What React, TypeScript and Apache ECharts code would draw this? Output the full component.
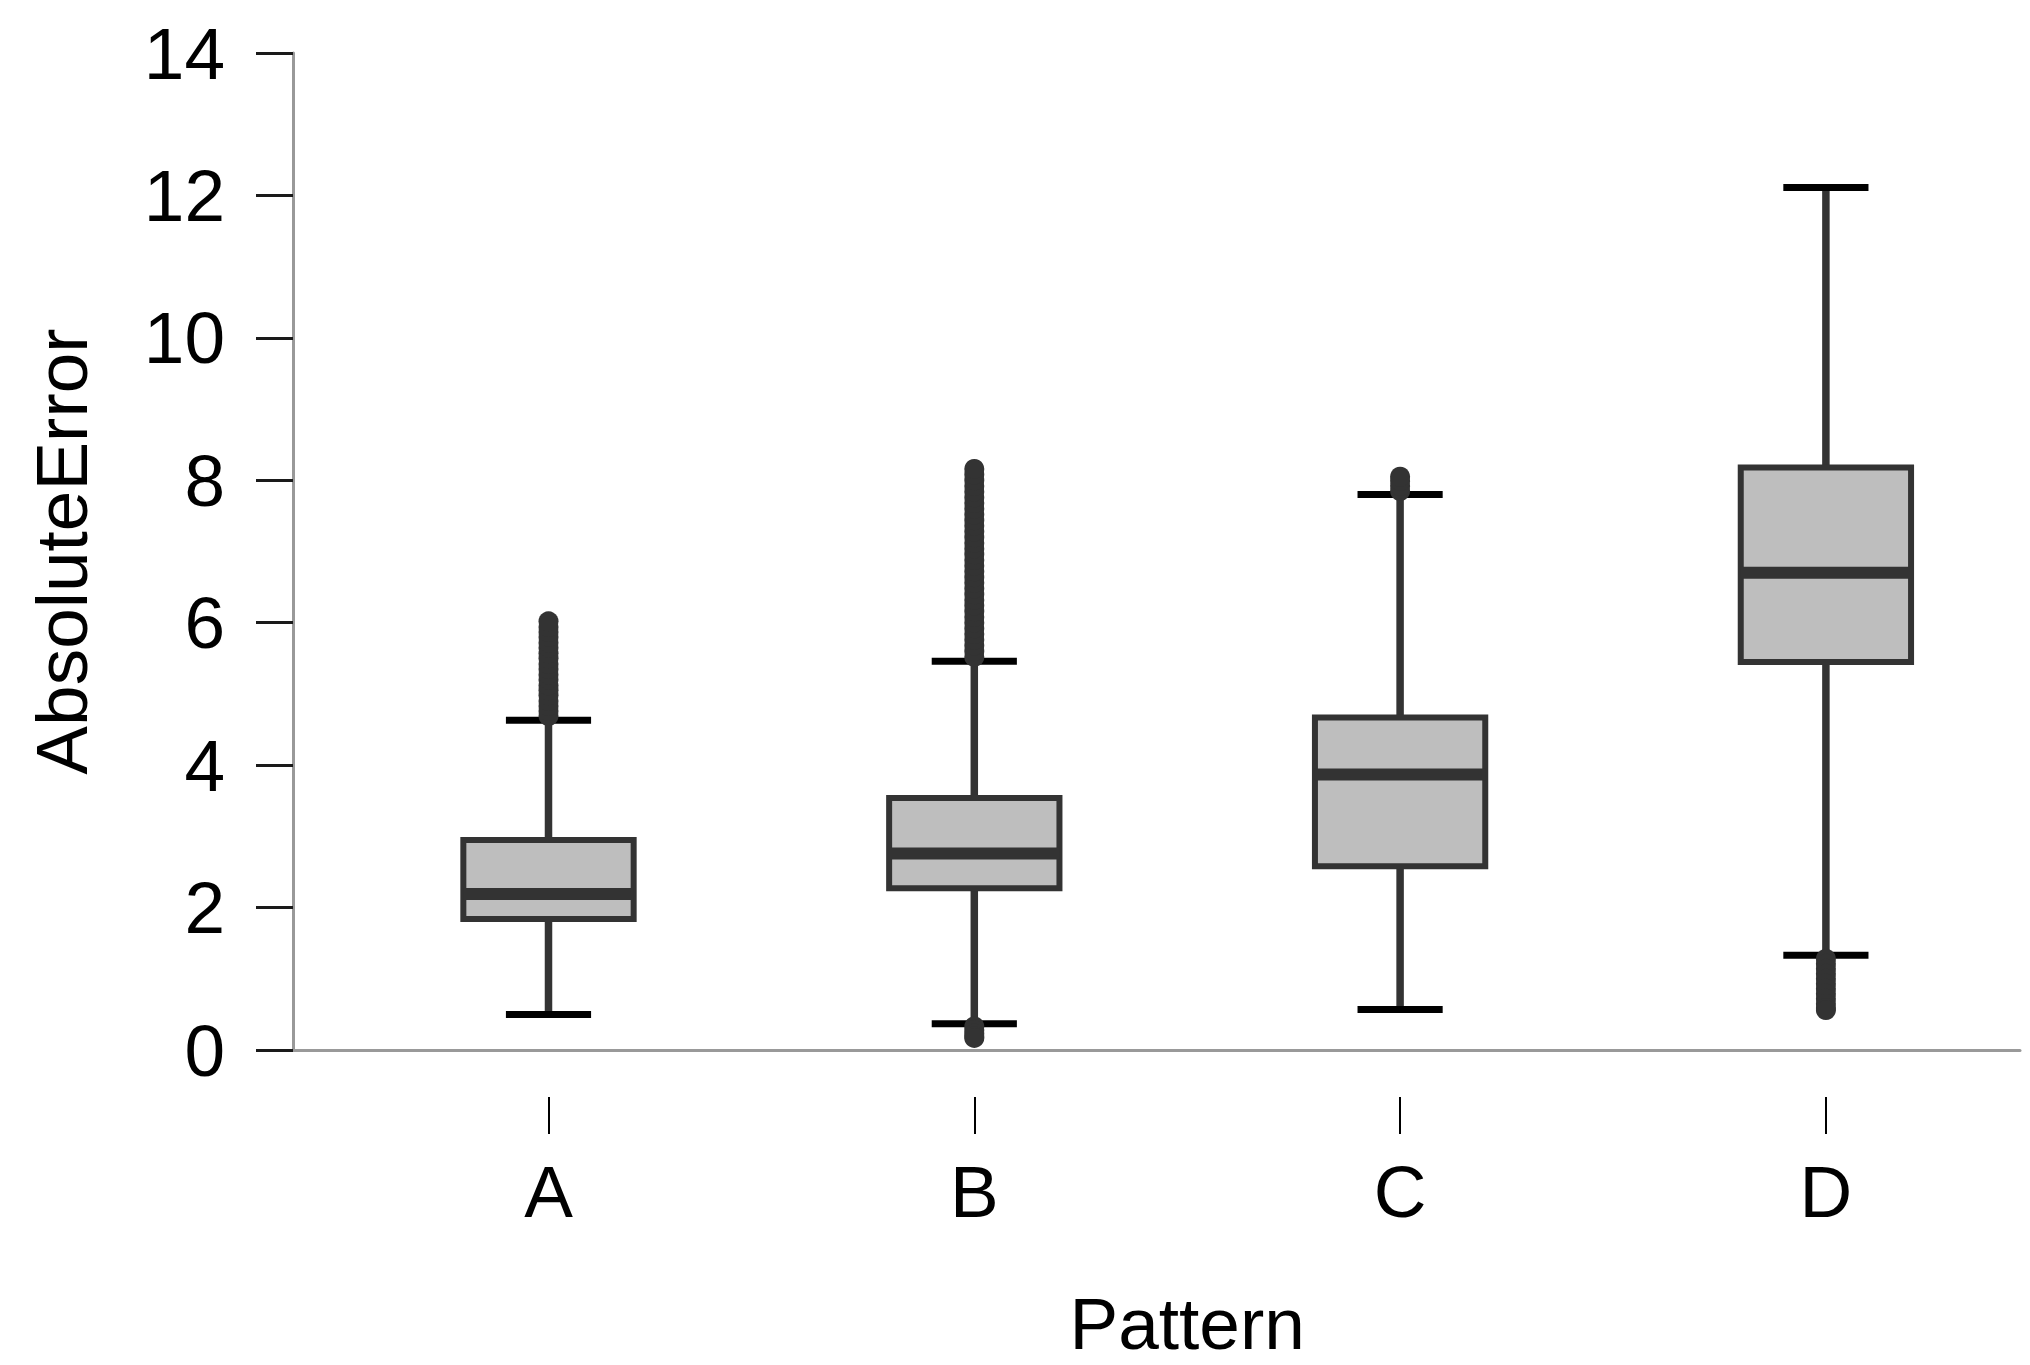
import React, { useEffect, useRef } from "react";
import * as echarts from "echarts";

// ---- Data ----
const categories = ["A", "B", "C", "D"];
const whiskerLow = [0.5, 0.37, 0.57, 1.33];
const q1 = [1.84, 2.27, 2.58, 5.45];
const medians = [2.19, 2.76, 3.87, 6.7];
const q3 = [2.95, 3.54, 4.67, 8.18];
const whiskerHigh = [4.63, 5.46, 7.8, 12.11];

const outliersA = [4.69, 4.76, 4.83, 4.9, 4.98, 5.05, 5.12, 5.2, 5.27, 5.35, 5.42, 5.5, 5.57, 5.65, 5.72, 5.8, 5.87, 5.94, 6.02];
const outliersB = [
  5.52, 5.6, 5.68, 5.76, 5.84, 5.92, 6.0, 6.08, 6.16, 6.24, 6.32, 6.4, 6.48, 6.56, 6.64, 6.72, 6.8, 6.88, 6.96, 7.04,
  7.12, 7.2, 7.28, 7.36, 7.44, 7.52, 7.6, 7.68, 7.76, 7.84, 7.92, 8.0, 8.08, 8.16,
  0.33, 0.28, 0.23, 0.19, 0.17,
];
const outliersC = [7.85, 7.92, 7.99, 8.05];
const outliersD = [1.28, 1.21, 1.14, 1.07, 1.0, 0.93, 0.86, 0.79, 0.72, 0.65, 0.59, 0.56];
const outlierLists = [outliersA, outliersB, outliersC, outliersD];

const yMin = 0;
const yMax = 14;
const yInterval = 2;

const xName = "Pattern";
const yName = "AbsoluteError";

const FONT = "'Liberation Sans', Arial, Helvetica, sans-serif";

export default function App() {
  const ref = useRef<HTMLDivElement>(null);

  useEffect(() => {
    if (!ref.current) return;
    const chart = echarts.init(ref.current, undefined, { renderer: "svg" });

    const boxData = categories.map((_, i) => [i, whiskerLow[i], q1[i], medians[i], q3[i], whiskerHigh[i]]);
    const outlierData: number[][] = [];
    outlierLists.forEach((list, i) => list.forEach((v) => outlierData.push([i, v])));

    const option: any = {
      animation: false,
      backgroundColor: "#ffffff",
      textStyle: { fontFamily: FONT },
      grid: [
        // grid 0: y axis and the grey baseline
        { left: 293, right: 10, top: 53, bottom: 315 },
        // grid 1: the boxes (categories placed on grid edges)
        { left: 548.5, right: 204.1, top: 53, bottom: 315 },
        // grid 2: detached category ticks, labels and axis name
        { left: 548.5, right: 204.1, top: 53, bottom: 265 },
      ],
      xAxis: [
        {
          type: "value",
          gridIndex: 0,
          min: 0,
          max: 1,
          axisLine: { show: true, lineStyle: { color: "#999999", width: 3 } },
          axisTick: { show: false },
          axisLabel: { show: false },
          splitLine: { show: false },
        },
        {
          type: "category",
          gridIndex: 1,
          data: categories,
          boundaryGap: false,
          show: false,
        },
        {
          type: "category",
          gridIndex: 2,
          data: categories,
          boundaryGap: false,
          axisLine: { show: false },
          axisTick: { show: true, length: 37, lineStyle: { color: "#000", width: 2 } },
          axisLabel: { fontSize: 73, color: "#000", margin: 58, fontFamily: FONT },
          splitLine: { show: false },
          name: xName,
          nameLocation: "middle",
          nameGap: 190,
          nameTextStyle: { fontSize: 73, color: "#000", fontFamily: FONT },
        },
      ],
      yAxis: [
        {
          type: "value",
          gridIndex: 0,
          min: yMin,
          max: yMax,
          interval: yInterval,
          axisLine: { show: true, lineStyle: { color: "#999999", width: 3 } },
          axisTick: { show: true, length: 37, lineStyle: { color: "#1a1a1a", width: 3 } },
          axisLabel: { fontSize: 73, color: "#000", margin: 68, fontFamily: FONT },
          splitLine: { show: false },
          name: yName,
          nameLocation: "middle",
          nameGap: 195,
          nameTextStyle: { fontSize: 73, color: "#000", fontFamily: FONT },
        },
        { type: "value", gridIndex: 1, min: yMin, max: yMax, show: false },
        { type: "value", gridIndex: 2, min: yMin, max: yMax, show: false },
      ],
      series: [
        {
          type: "custom",
          xAxisIndex: 1,
          yAxisIndex: 1,
          data: boxData,
          encode: { x: 0, y: [1, 2, 3, 4, 5] },
          clip: false,
          renderItem: (params: any, api: any) => {
            const i = api.value(0);
            const band = api.size([1, 0])[0];
            const boxW = band * 0.4;
            const capW = band * 0.2;
            const pLo = api.coord([i, api.value(1)]);
            const pQ1 = api.coord([i, api.value(2)]);
            const pMed = api.coord([i, api.value(3)]);
            const pQ3 = api.coord([i, api.value(4)]);
            const pHi = api.coord([i, api.value(5)]);
            const cx = pQ1[0];
            return {
              type: "group",
              children: [
                { type: "line", shape: { x1: cx, y1: pQ1[1], x2: cx, y2: pLo[1] }, style: { stroke: "#333", lineWidth: 7.5 } },
                { type: "line", shape: { x1: cx, y1: pQ3[1], x2: cx, y2: pHi[1] }, style: { stroke: "#333", lineWidth: 7.5 } },
                { type: "line", shape: { x1: cx - capW / 2, y1: pLo[1], x2: cx + capW / 2, y2: pLo[1] }, style: { stroke: "#000", lineWidth: 7 } },
                { type: "line", shape: { x1: cx - capW / 2, y1: pHi[1], x2: cx + capW / 2, y2: pHi[1] }, style: { stroke: "#000", lineWidth: 7 } },
                {
                  type: "rect",
                  shape: { x: cx - boxW / 2, y: pQ3[1], width: boxW, height: pQ1[1] - pQ3[1] },
                  style: { fill: "#bebebe", stroke: "#333", lineWidth: 6 },
                },
                { type: "line", shape: { x1: cx - boxW / 2, y1: pMed[1], x2: cx + boxW / 2, y2: pMed[1] }, style: { stroke: "#333", lineWidth: 12 } },
              ],
            };
          },
          z: 2,
        },
        {
          type: "scatter",
          xAxisIndex: 1,
          yAxisIndex: 1,
          data: outlierData,
          symbol: "circle",
          symbolSize: 20,
          clip: false,
          itemStyle: { color: "#333333", opacity: 1 },
          z: 3,
        },
      ],
    };

    chart.setOption(option);
    return () => chart.dispose();
  }, []);

  return <div ref={ref} style={{ position: "absolute", left: 0, top: 0, width: 2030, height: 1365 }} />;
}
